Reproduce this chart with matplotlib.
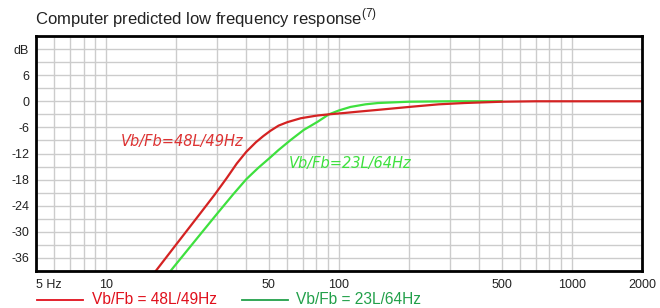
#!/usr/bin/env python3
"""
plot.py - Computer predicted low frequency response of two vented box alignments
"""

import matplotlib
matplotlib.use('Agg')
import matplotlib.pyplot as plt
from matplotlib.lines import Line2D
from matplotlib.ticker import FixedLocator, NullFormatter

plt.rcParams['font.family'] = ['Liberation Sans', 'DejaVu Sans']

# Red curve: Vb/Fb = 48L/49Hz
freq_48 = [15, 16.5, 20, 25, 29.3, 33, 36.4, 40, 44, 47.3, 50.7, 55, 60, 68.5,
           80, 90.5, 105, 120, 152, 200, 268, 345, 500, 700, 1000, 2000]
db_48 = [-41.5, -38.7, -32.9, -26.2, -21.4, -17.6, -14.3, -11.6, -9.4, -8.0,
         -6.8, -5.6, -4.8, -3.9, -3.3, -3.0, -2.7, -2.4, -1.9, -1.3, -0.7,
         -0.4, -0.1, 0.0, 0.0, 0.0]

# Green curve: Vb/Fb = 23L/64Hz
freq_23 = [17, 19.1, 25, 30, 35.1, 40, 45, 50.7, 55, 62, 70.5, 81, 90.5, 100,
           112, 130, 147, 200, 300, 500]
db_23 = [-42.5, -38.7, -31.0, -25.8, -21.4, -17.9, -15.3, -12.9, -11.2, -8.9,
         -6.6, -4.7, -3.0, -2.1, -1.3, -0.7, -0.4, -0.1, 0.0, 0.0]

x_ticks = [5, 10, 50, 100, 500, 1000, 2000]
x_labels = ['5 Hz', '10', '50', '100', '500', '1000', '2000']
y_ticks = [-36, -30, -24, -18, -12, -6, 0, 6, 12]
y_labels = ['-36', '-30', '-24', '-18', '-12', '-6', '0', '6', 'dB']

label_48 = 'Vb/Fb=48L/49Hz'
label_23 = 'Vb/Fb=23L/64Hz'
legend_48 = 'Vb/Fb = 48L/49Hz'
legend_23 = 'Vb/Fb = 23L/64Hz'

RED = '#d42222'
GREEN = '#3ee03e'

fig = plt.figure(figsize=(6.6, 3.08), dpi=100)
ax = fig.add_axes([36 / 660, 37 / 308, 606 / 660, 235 / 308])

ax.set_xscale('log')
ax.set_xlim(5, 2000)
ax.set_ylim(-39, 15)

# grid: log minor lines on x, 3 dB steps on y
x_grid = [m * d for d in (1, 10, 100, 1000) for m in range(1, 10) if 5 <= m * d <= 2000]
y_grid = list(range(-39, 16, 3))
ax.xaxis.set_major_locator(FixedLocator(x_ticks))
ax.xaxis.set_minor_locator(FixedLocator(x_grid))
ax.xaxis.set_minor_formatter(NullFormatter())
ax.set_xticklabels(x_labels)
ax.set_yticks(y_ticks)
ax.set_yticklabels(y_labels)
ax.yaxis.set_minor_locator(FixedLocator(y_grid))
ax.grid(True, which='both', color='#cccccc', linewidth=1.0)
ax.set_axisbelow(True)

ax.tick_params(which='both', length=0, labelsize=9, colors='#222222')
ax.tick_params(axis='x', pad=6)
ax.tick_params(axis='y', pad=5)
ax.get_xticklabels()[0].set_ha('left')

for spine in ax.spines.values():
    spine.set_linewidth(2)
    spine.set_color('black')

ax.plot(freq_23, db_23, color=GREEN, linewidth=1.6)
ax.plot(freq_48, db_48, color=RED, linewidth=1.6)

ax.text(11.6, -9.3, label_48, color='#dd3333', fontsize=10.5, style='italic',
        family='DejaVu Sans', ha='left', va='center')
ax.text(60.7, -14.2, label_23, color=GREEN, fontsize=10.5, style='italic',
        family='DejaVu Sans', ha='left', va='center')

fig.text(35 / 660, 290 / 308,
         'Computer predicted low frequency response$^{\\mathregular{(7)}}$',
         fontsize=12, color='#222222', ha='left', va='center')

# legend below the chart
fig.add_artist(Line2D([37 / 660, 83 / 660], [8 / 308, 8 / 308],
                      color='#e0101c', linewidth=1.3))
fig.text(92 / 660, 8 / 308, legend_48, color='#e0101c', fontsize=11.2,
         ha='left', va='center')
fig.add_artist(Line2D([242 / 660, 288 / 660], [8 / 308, 8 / 308],
                      color='#22a04a', linewidth=1.3))
fig.text(296 / 660, 8 / 308, legend_23, color='#22a04a', fontsize=11.2,
         ha='left', va='center')

fig.savefig('out.png', dpi=100)
